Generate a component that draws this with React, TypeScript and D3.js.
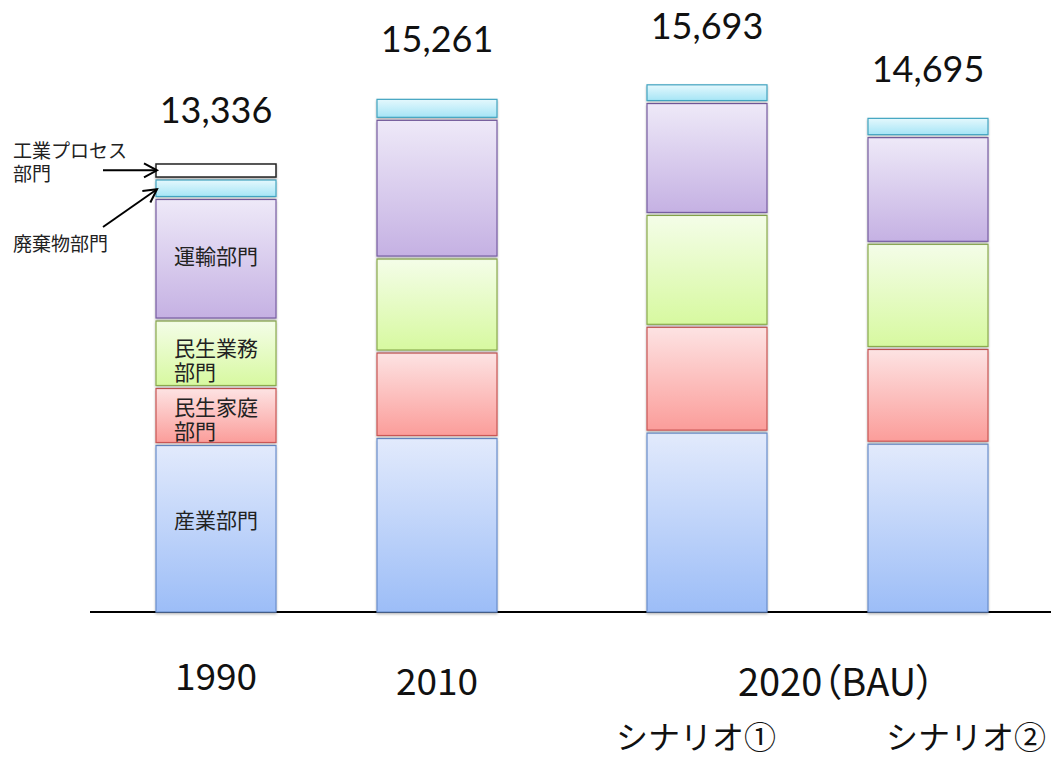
import React from "react";
import * as d3 from "d3";

// ---------------- DATA ----------------
const categories = ["1990", "2010", "シナリオ①", "シナリオ②"];
const groupOf = ["1990", "2010", "2020", "2020"];
const sectorKeys = ["industry", "household", "commercial", "transport", "waste", "process"];
const industry = [5001, 5209, 5370, 5040];
const household = [1697, 2545, 3150, 2820];
const commercial = [2009, 2798, 3330, 3130];
const transport = [3617, 4129, 3330, 3175];
const waste = [580, 580, 513, 530];
const processArr = [432, 0, 0, 0];
const totals = [13336, 15261, 15693, 14695];
const yearLabels = ["1990", "2010", "2020（BAU）"];
const scenarioLabels = ["シナリオ①", "シナリオ②"];
const innerLabels = [["産業部門"], ["民生家庭", "部門"], ["民生業務", "部門"], ["運輸部門"]];
const processLabel = ["工業プロセス", "部門"];
const wasteLabel = "廃棄物部門";

// ---------------- STYLE / LAYOUT ----------------
const W = 1051;
const H = 758;
const BASE = 612;
const JP = "'Noto Sans CJK JP', 'Noto Sans', sans-serif";
const NUM = "Lato, 'Open Sans', sans-serif";
const colors: Record<string, { top: string; bottom: string; stroke: string }> = {
  industry: { top: "#e2eafc", bottom: "#9cbdf7", stroke: "#6a8ecc" },
  household: { top: "#fde3e3", bottom: "#fb9d9a", stroke: "#c95654" },
  commercial: { top: "#f4fde8", bottom: "#d7f9a0", stroke: "#8aab4d" },
  transport: { top: "#eee9f8", bottom: "#c5b1e3", stroke: "#775da2" },
  waste: { top: "#e4f8fd", bottom: "#a6e5f6", stroke: "#42a4c0" },
  process: { top: "#ffffff", bottom: "#ffffff", stroke: "#222222" },
};
const groupShift: Record<string, number> = { "1990": 0, "2010": 0, "2020": 49 };
const totalDy = [41, 47, 46, 36];
const innerDy = [-9.5, 2.5, 6, -4];

export default function App() {
  const rows = categories.map((c, i) => ({
    cat: c,
    industry: industry[i],
    household: household[i],
    commercial: commercial[i],
    transport: transport[i],
    waste: waste[i],
    process: processArr[i],
  }));
  const series = d3.stack<any>().keys(sectorKeys)(rows);
  const stackTop = (i: number) => sectorKeys.reduce((a, k) => a + (rows[i] as any)[k], 0);

  const y = d3.scaleLinear().domain([0, 16000]).range([BASE, BASE - 16000 * 0.033593]);
  const xb = d3.scaleBand().domain(categories).range([156, 939]).paddingInner(0.457).paddingOuter(0);
  const bw = xb.bandwidth();
  const xl = (i: number) => (xb(categories[i]) as number) + groupShift[groupOf[i]];
  const xc = (i: number) => xl(i) + bw / 2;

  const segs: any[] = [];
  series.forEach((s, si) => {
    s.forEach((d, i) => {
      if (d[1] - d[0] <= 0) return;
      const isBottom = si === 0;
      const isTop = Math.abs(d[1] - stackTop(i)) < 1e-6;
      const top = y(d[1]) + (isTop ? 0 : 1.5);
      const bottom = y(d[0]) - (isBottom ? 0 : 1.5);
      segs.push({ key: s.key, i, x: xl(i), yTop: top, h: bottom - top });
    });
  });

  const mid = (si: number, i: number) => y((series[si][i][0] + series[si][i][1]) / 2);
  const g2020 = (xc(2) + xc(3)) / 2;

  return (
    <svg width={W} height={H} style={{ position: "absolute", left: 0, top: 0, background: "#fff" }}>
      <defs>
        {sectorKeys.map((k) => (
          <linearGradient key={k} id={`g-${k}`} x1="0" y1="0" x2="0" y2="1">
            <stop offset="0%" stopColor={colors[k].top} />
            <stop offset="100%" stopColor={colors[k].bottom} />
          </linearGradient>
        ))}
        <filter id="sh" x="-10%" y="-10%" width="120%" height="130%">
          <feDropShadow dx="0" dy="1.5" stdDeviation="1.2" floodColor="#000" floodOpacity="0.3" />
        </filter>
        <marker id="arr" markerUnits="userSpaceOnUse" markerWidth="18" markerHeight="18" refX="15" refY="8" orient="auto">
          <path d="M2,1 L15,8 L2,15" fill="none" stroke="#000" strokeWidth="2" />
        </marker>
      </defs>

      <line x1={90} x2={W} y1={BASE} y2={BASE} stroke="#000" strokeWidth={2} />

      {segs.map((s, j) => (
        <rect
          key={j}
          x={s.x}
          y={s.yTop}
          width={bw}
          height={s.h}
          fill={`url(#g-${s.key})`}
          stroke={colors[s.key].stroke}
          strokeWidth={s.key === "process" ? 1.5 : 1.2}
          filter="url(#sh)"
        />
      ))}

      {/* inner labels for 1990 */}
      {innerLabels.map((lines, si) => {
        const cy = mid(si, 0) + innerDy[si];
        const lh = 24.5;
        const multi = lines.length > 1;
        const x0 = multi ? xc(0) - 42 : xc(0);
        return (
          <text
            key={si}
            x={x0}
            y={cy - ((lines.length - 1) / 2) * lh}
            textAnchor={multi ? "start" : "middle"}
            dominantBaseline="central"
            fontFamily={JP}
            fontSize={21}
            fill="#222"
          >
            {lines.map((t, li) => (
              <tspan key={li} x={x0} dy={li === 0 ? 0 : lh}>
                {t}
              </tspan>
            ))}
          </text>
        );
      })}

      {/* totals */}
      {totals.map((t, i) => (
        <text
          key={i}
          x={xc(i)}
          y={y(stackTop(i)) - totalDy[i]}
          textAnchor="middle"
          fontFamily={NUM}
          fontSize={36}
          fill="#111"
        >
          {d3.format(",")(t)}
        </text>
      ))}

      {/* annotations */}
      <text x={13} y={149} dominantBaseline="central" fontFamily={JP} fontSize={19} fill="#222">
        <tspan x={13} dy={0}>{processLabel[0]}</tspan>
        <tspan x={13} dy={23}>{processLabel[1]}</tspan>
      </text>
      <text x={13} y={242} dominantBaseline="central" fontFamily={JP} fontSize={19} fill="#222">
        {wasteLabel}
      </text>
      <line x1={103} y1={mid(5, 0) - 1} x2={xl(0) + 1} y2={mid(5, 0) - 1} stroke="#000" strokeWidth={2} markerEnd="url(#arr)" />
      <line x1={103} y1={227} x2={xl(0) + 1} y2={mid(4, 0) + 1} stroke="#000" strokeWidth={2} markerEnd="url(#arr)" />

      {/* category labels */}
      <text x={xc(0)} y={674} textAnchor="middle" dominantBaseline="central" fontFamily={JP} fontSize={37} fill="#111">
        {yearLabels[0]}
      </text>
      <text x={xc(1)} y={678.5} textAnchor="middle" dominantBaseline="central" fontFamily={JP} fontSize={37} fill="#111">
        {yearLabels[1]}
      </text>
      <text
        x={g2020 + 19}
        y={679}
        textAnchor="middle"
        dominantBaseline="central"
        fontFamily={JP}
        fontSize={38}
        fill="#111"
        style={{ fontFeatureSettings: '"palt"' }}
      >
        {yearLabels[2]}
      </text>
      <text x={xc(2) - 11} y={735} textAnchor="middle" dominantBaseline="central" fontFamily={JP} fontSize={32} fill="#111">
        {scenarioLabels[0]}
      </text>
      <text x={xc(3) + 38} y={735} textAnchor="middle" dominantBaseline="central" fontFamily={JP} fontSize={32} fill="#111">
        {scenarioLabels[1]}
      </text>
    </svg>
  );
}
